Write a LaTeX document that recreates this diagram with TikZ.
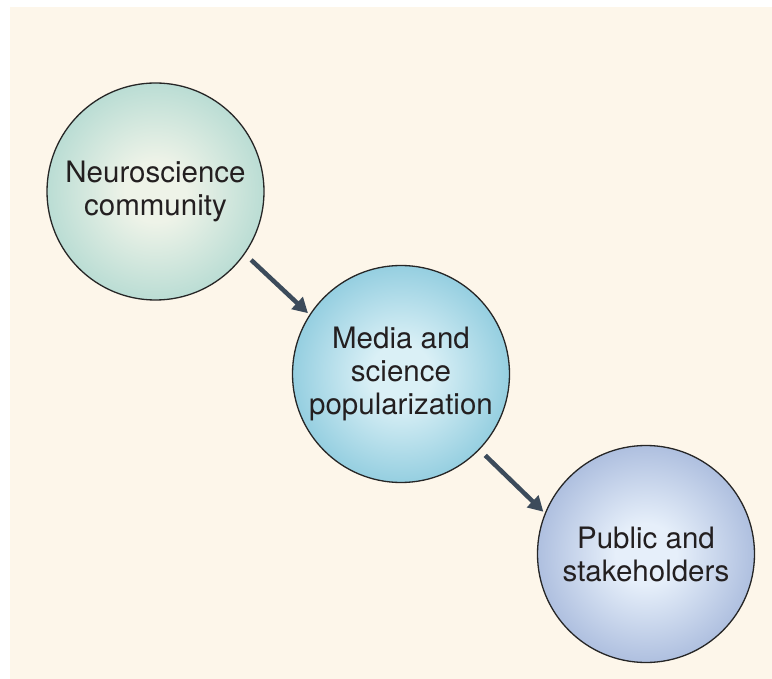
\documentclass[tikz,border=0pt]{standalone}
\usepackage{fontspec}
\setmainfont{TeX Gyre Heros}
\usetikzlibrary{arrows.meta}
\definecolor{cream}{HTML}{FDF6EA}
\definecolor{arrowc}{HTML}{3C4B5B}
\definecolor{txt}{HTML}{231F20}
\definecolor{aIn}{HTML}{EEF3E8}
\definecolor{aOut}{HTML}{7EC3BD}
\definecolor{bIn}{HTML}{DAF0F6}
\definecolor{bOut}{HTML}{45A8C7}
\definecolor{cIn}{HTML}{E6EFFA}
\definecolor{cOut}{HTML}{6E88C0}
\pgfdeclareradialshading{shA}{\pgfpoint{0bp}{0bp}}{color(0bp)=(aIn); color(7bp)=(aIn); color(46bp)=(aOut); color(60bp)=(aOut)}
\pgfdeclareradialshading{shB}{\pgfpoint{0bp}{0bp}}{color(0bp)=(bIn); color(7bp)=(bIn); color(46bp)=(bOut); color(60bp)=(bOut)}
\pgfdeclareradialshading{shC}{\pgfpoint{0bp}{0bp}}{color(0bp)=(cIn); color(7bp)=(cIn); color(46bp)=(cOut); color(60bp)=(cOut)}
\tikzset{
  ball/.style={circle, draw=black!85, line width=1.3pt, minimum size=217pt, inner sep=0pt,
    align=center, text=txt, font=\fontsize{29.5}{33}\selectfont},
  arr/.style={draw=arrowc, line width=4.5pt, -{Triangle[width=16pt,length=15pt]}}
}
\begin{document}
\begin{tikzpicture}[x=1pt,y=-1pt]
\useasboundingbox (0,0) rectangle (772,679);
\fill[white] (0,0) rectangle (772,679);
\fill[cream] (10,7) rectangle (772,679);
\node[ball, shading=shA] (n1) at (155.5,191.5) {Neuroscience\\community};
\node[ball, shading=shB] (n2) at (401,374) {Media and\\science\\popularization};
\node[ball, shading=shC] (n3) at (646,554) {Public and\\stakeholders};
\draw[arr, shorten <=8.5pt, shorten >=2pt] (n1.-35) -- (n2.147);
\draw[arr, shorten <=8pt, shorten >=2pt] (n2.-44) -- (n3.158);
\end{tikzpicture}
\end{document}
